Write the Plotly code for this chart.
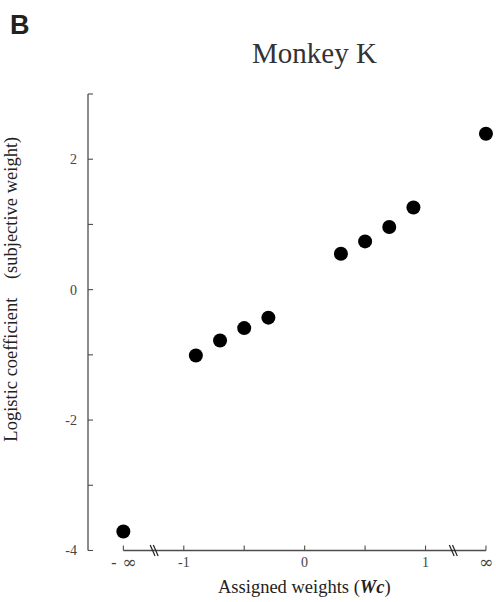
import plotly.graph_objects as go

# Assigned weights; -inf / +inf are placed at -1.5 / +1.5 on the axis
weight_pos = [-1.5, -0.9, -0.7, -0.5, -0.3, 0.3, 0.5, 0.7, 0.9, 1.5]
# Fitted logistic coefficients (subjective weight)
coefficients = [-3.71, -1.01, -0.78, -0.59, -0.43, 0.55, 0.74, 0.96, 1.26, 2.39]

x_tick_vals = [-1.5, -1, -0.5, 0, 0.5, 1, 1.5]
x_tick_text = ["- ∞", "-1", "", "0", "", "1", "∞"]
y_tick_vals = [-4, -3, -2, -1, 0, 1, 2, 3]
y_tick_text = ["-4", "", "-2", "", "0", "", "2", ""]
break_pos = [-1.245, 1.23]

serif = "Liberation Serif"
axis_grey = "#4d4d4d"

X_RANGE = [-1.7925, 1.55]
Y_RANGE = [-4.1, 3]
W, H = 496, 602
M = dict(l=88, r=4, t=94, b=45)
plot_w = W - M["l"] - M["r"]
plot_h = H - M["t"] - M["b"]
y_base = y_tick_vals[0]


def px(x):
    """data x -> paper fraction"""
    return (x - X_RANGE[0]) / (X_RANGE[1] - X_RANGE[0])


def py(y):
    """data y -> paper fraction"""
    return (y - Y_RANGE[0]) / (Y_RANGE[1] - Y_RANGE[0])


fig = go.Figure()
fig.add_trace(go.Scatter(
    x=weight_pos, y=coefficients, mode="markers",
    marker=dict(size=14, color="black", line=dict(width=0)),
    cliponaxis=False, showlegend=False,
))

line_style = dict(color=axis_grey, width=1.3)
tick_style = dict(color=axis_grey, width=1.1)

# x-axis baseline from -inf to +inf
fig.add_shape(type="line", xref="x", yref="y",
              x0=x_tick_vals[0], x1=x_tick_vals[-1], y0=y_base, y1=y_base,
              line=line_style, layer="above")
# x ticks pointing up
for xv in x_tick_vals:
    fig.add_shape(type="line", xref="x", yref="y",
                  x0=xv, x1=xv, y0=y_base, y1=y_base + 5 / plot_h * (Y_RANGE[1] - Y_RANGE[0]),
                  line=tick_style, layer="above")
# y-axis line and ticks pointing right
fig.add_shape(type="line", xref="paper", yref="paper",
              x0=0, x1=0, y0=py(y_base), y1=py(Y_RANGE[1]),
              line=line_style, layer="above")
for yv in y_tick_vals:
    fig.add_shape(type="line", xref="paper", yref="paper",
                  x0=0, x1=5 / plot_w, y0=py(yv), y1=py(yv),
                  line=tick_style, layer="above")

# axis-break marks (double slashes)
for xb in break_pos:
    for dx in (-0.013, 0.013):
        fig.add_shape(type="line", xref="paper", yref="paper",
                      x0=px(xb + dx - 0.02), x1=px(xb + dx + 0.02),
                      y0=py(y_base) + 5.5 / plot_h, y1=py(y_base) - 5.5 / plot_h,
                      line=dict(color="#222222", width=1.2), layer="above")

annotations = [
    dict(text="<b>B</b>", xref="paper", yref="paper",
         x=-80 / plot_w, y=1 + (M["t"] - 25) / plot_h,
         xanchor="left", yanchor="middle", showarrow=False,
         font=dict(family="Liberation Sans", size=27, color="#222222")),
    dict(text="Monkey K", x=0.08, y=3.0, xref="x", yref="y",
         yshift=41, xanchor="center", yanchor="middle", showarrow=False,
         font=dict(family=serif, size=29, color="#333333")),
    dict(text="Logistic coefficient    (subjective weight)", x=0, y=0,
         xref="paper", yref="y", xshift=-76, textangle=-90,
         xanchor="center", yanchor="middle", showarrow=False,
         font=dict(family=serif, size=18.5, color="#222222")),
    dict(text="Assigned weights (<b><i>Wc</i></b>)", x=0, y=y_base,
         xref="x", yref="y", yshift=-37, xanchor="center", yanchor="middle",
         showarrow=False,
         font=dict(family=serif, size=18.5, color="#222222")),
]
# x tick labels, set just under the baseline
for xv, label in zip(x_tick_vals, x_tick_text):
    if not label:
        continue
    is_inf = "∞" in label
    annotations.append(dict(
        text=label, x=xv, y=y_base, xref="x", yref="y", yshift=-12,
        xanchor="center", yanchor="middle", showarrow=False,
        font=dict(family="DejaVu Serif" if is_inf else serif,
                  size=17 if is_inf else 14, color="#444444"),
    ))

fig.update_layout(
    width=W, height=H, margin=M,
    plot_bgcolor="white", paper_bgcolor="white",
    xaxis=dict(
        range=X_RANGE, showgrid=False, zeroline=False, showline=False,
        tickmode="array", tickvals=x_tick_vals, showticklabels=False, ticks="",
    ),
    yaxis=dict(
        range=Y_RANGE, showgrid=False, zeroline=False, showline=False,
        tickmode="array", tickvals=y_tick_vals, ticktext=y_tick_text,
        ticks="", ticklabelstandoff=10,
        tickfont=dict(family=serif, size=14, color="#444444"),
    ),
    annotations=annotations,
)

fig.write_html("out.html")
